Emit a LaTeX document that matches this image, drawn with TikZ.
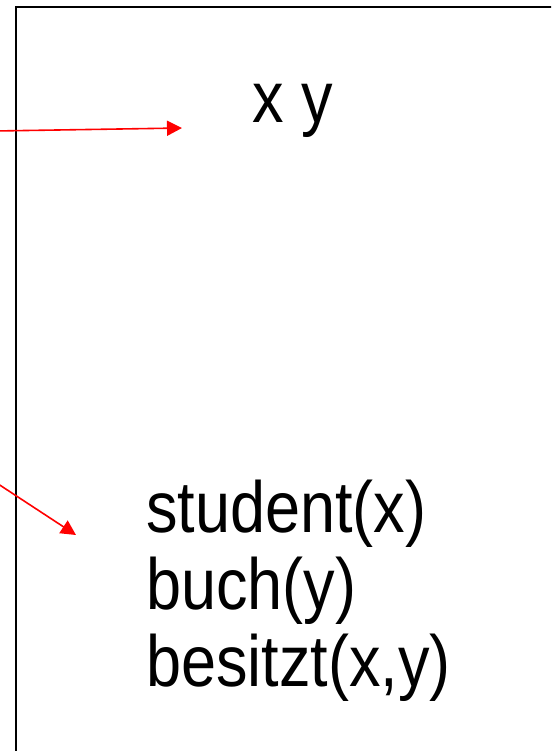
\documentclass[tikz,border=0pt]{standalone}
\usepackage{fontspec}
\setmainfont{Liberation Sans}
\usepackage{tikz}
\usetikzlibrary{arrows.meta, positioning}

\begin{document}
\begin{tikzpicture}[
    x=1pt, y=-1pt,
    drs/.style={draw, line width=2.2pt},
    term/.style={inner sep=0pt, yscale=1.15, font=\fontsize{63}{67}\selectfont, align=left},
    arrow/.style={-{Triangle[length=15pt, width=15pt]}, red, line width=1.6pt}
]
\useasboundingbox (0,0) rectangle (551,751);
\clip (0,0) rectangle (551,751);

% box
\draw[drs] (16,7) rectangle (620,820);

\node[term, anchor=base] (refs) at (293,123) {x y};
\node[term, anchor=north west] (conds) at (146,480) {student(x)\\buch(y)\\besitzt(x,y)};

\coordinate (in1) at (-5,131);
\coordinate (out1) at (182,128);
\coordinate (in2) at (-40,459);
\coordinate (out2) at (76,535);

\draw[arrow] (in1) -- (out1);
\draw[arrow] (in2) -- (out2);

\end{tikzpicture}
\end{document}
